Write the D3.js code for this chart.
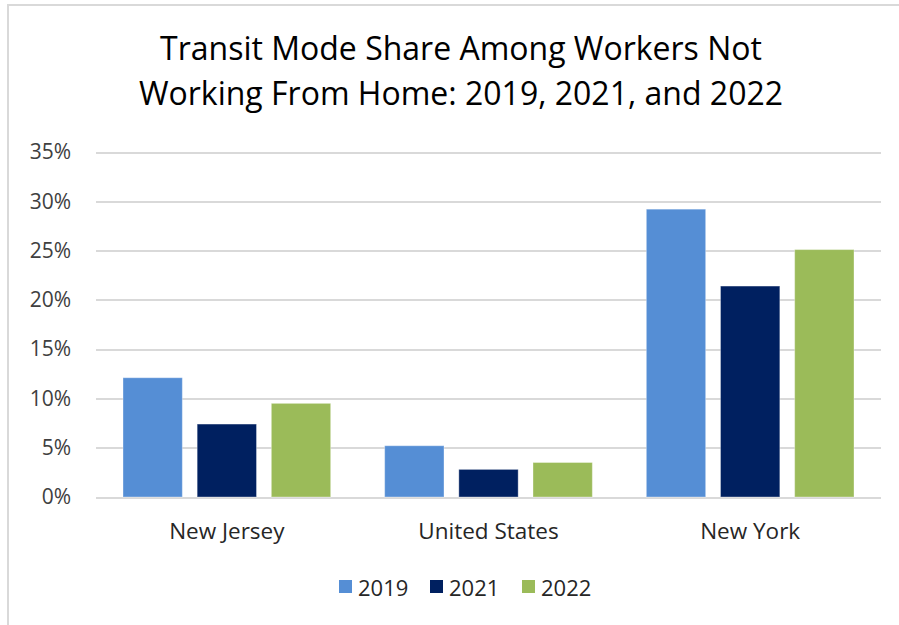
<!doctype html>
<html>
  <meta charset="utf-8">
  <head>
    <script src="https://d3js.org/d3.v7.min.js"></script>
    <style type='text/css'>
      body{ margin:0; background:#fff; }
      text{ font-family: "Open Sans", Lato, sans-serif; fill:#262626; }
      g.grid line{
        stroke: #d9d9d9;
        stroke-width: 2px;
        shape-rendering: crispEdges;
      }
      g.grid path.domain{ display:none; }
    </style>
  </head>
  <body>
    <svg id='chart'></svg>
    <script type='text/javascript'>
      var categories = ['New Jersey','United States','New York'];
      var years = ['2019','2021','2022'];
      var v2019 = [12.1, 5.2, 29.2];
      var v2021 = [7.4, 2.8, 21.4];
      var v2022 = [9.5, 3.5, 25.1];
      var yTicks = [0,5,10,15,20,25,30,35];
      var colors = ['#558ed5','#002060','#9bbb59'];
      var titleLines = ['Transit Mode Share Among Workers Not','Working From Home: 2019, 2021, and 2022'];

      var series = [v2019, v2021, v2022];
      var w = 899, h = 625;
      var svg = d3.select('svg').attr('width',w).attr('height',h);

      // frame
      svg.append('line').attr('x1',7).attr('x2',w).attr('y1',5).attr('y2',5)
        .style('stroke','#d9d9d9').style('stroke-width',2);
      svg.append('line').attr('x1',8).attr('x2',8).attr('y1',4).attr('y2',h)
        .style('stroke','#d9d9d9').style('stroke-width',2);

      // title
      svg.append('g').selectAll('text').data(titleLines).enter()
        .append('text')
        .attr('x',461).attr('y',(d,i)=>60+i*45)
        .attr('text-anchor','middle')
        .style('font-size','32px').style('fill','#000')
        .text(d=>d);

      var xScale = d3.scaleBand().domain(categories).range([96,881]);
      var yScale = d3.scaleLinear().domain([0,35]).range([497,152]);
      var x1 = d3.scaleBand().domain(years)
        .range([27, xScale.bandwidth()-27]).paddingInner(0.2);

      // gridlines
      var yAxis = d3.axisLeft(yScale).tickValues(yTicks)
        .tickSize(-(881-96)).tickFormat(d=>d+'%').tickPadding(25);
      var gy = svg.append('g').attr('class','grid')
        .attr('transform','translate(96,0)').call(yAxis);
      gy.selectAll('text').style('font-size','21px').style('fill','#404040');

      // bars
      var groups = svg.selectAll('g.cat').data(categories).enter()
        .append('g').attr('class','cat')
        .attr('transform',d=>'translate('+xScale(d)+',0)');
      groups.selectAll('rect')
        .data((d,i)=>years.map((y,j)=>({year:y, v:series[j][i], j:j})))
        .enter().append('rect')
        .attr('x',d=>x1(d.year))
        .attr('width',x1.bandwidth())
        .attr('y',d=>yScale(d.v))
        .attr('height',d=>yScale(0)-yScale(d.v))
        .attr('fill',d=>colors[d.j])
        .style('stroke','rgba(255,255,255,0.35)').style('stroke-width',1);

      // category labels
      svg.append('g').selectAll('text').data(categories).enter()
        .append('text')
        .attr('x',d=>xScale(d)+xScale.bandwidth()/2)
        .attr('y',539)
        .attr('text-anchor','middle')
        .style('font-size','22.5px').style('fill','#262626')
        .text(d=>d);

      // legend
      var legX = [339,430,522];
      var leg = svg.append('g').selectAll('g').data(years).enter()
        .append('g').attr('transform',(d,i)=>'translate('+legX[i]+',580)');
      leg.append('rect').attr('width',13).attr('height',13)
        .attr('fill',(d,i)=>colors[i]);
      leg.append('text').attr('x',19).attr('y',16)
        .style('font-size','22px').style('fill','#262626')
        .text(d=>d);
    </script>
  </body>
</html>
